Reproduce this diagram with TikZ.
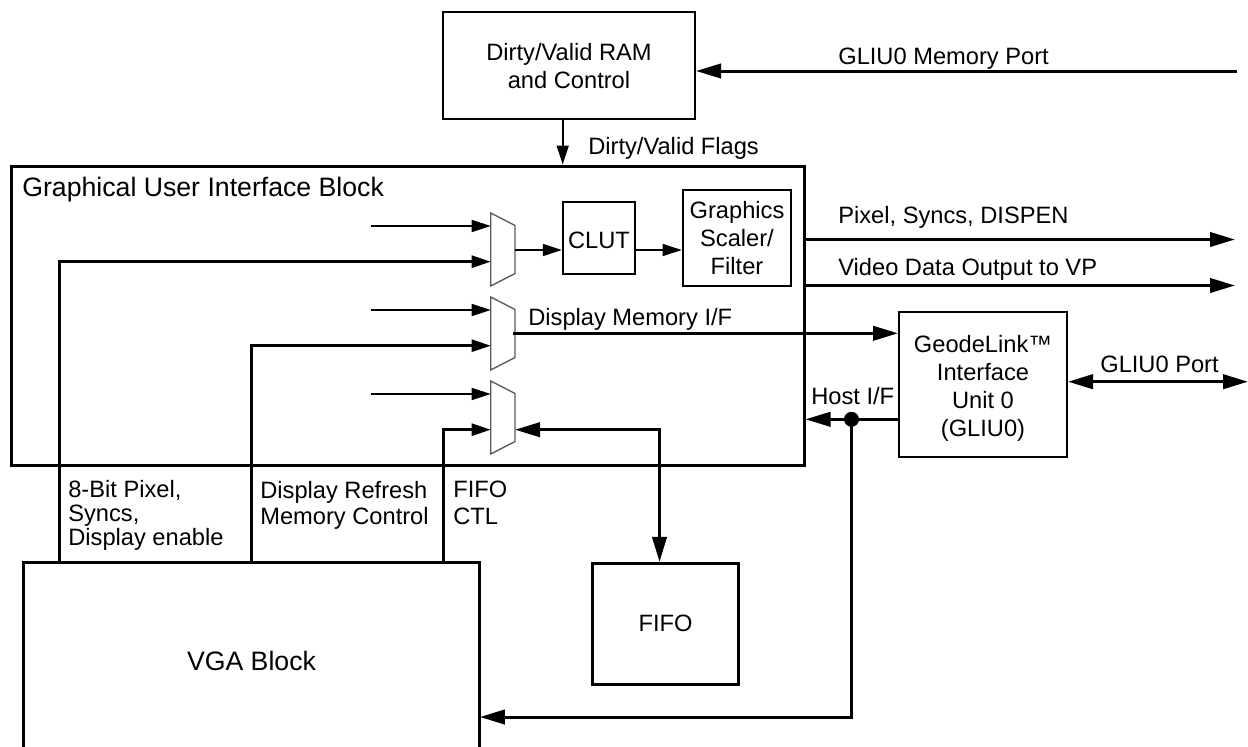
\documentclass[tikz,border=0pt]{standalone}
\usepackage{fontspec}
\setmainfont{Liberation Sans}
\usetikzlibrary{arrows.meta, positioning}

\begin{document}
\begin{tikzpicture}[x=0.6pt,y=-0.6pt,
	block/.style={draw, line width=1.2pt, inner sep=0pt, align=center, font=\fontsize{14.2}{16.8}\selectfont},
	bigblock/.style={block, line width=1.8pt},
	lbl/.style={inner sep=0pt, anchor=west, align=left, font=\fontsize{14.2}{16.8}\selectfont},
	biglbl/.style={font=\fontsize{16}{19}\selectfont},
	thin arrow/.style={-{Triangle[length=11.4pt,width=7.2pt]}, line width=1pt},
	tap arrow/.style={thin arrow, line width=1.6pt},
	bus/.style={-{Triangle[length=15pt,width=8.6pt]}, line width=1.8pt},
	both bus/.style={{Triangle[length=15pt,width=8.6pt]}-{Triangle[length=15pt,width=8.6pt]}, line width=1.8pt},
	muxline/.style={draw=black!65, line width=0.8pt}]
	\useasboundingbox (0,0) rectangle (1248,747);

	% blocks
	\node[block, minimum width=151.2pt, minimum height=64.6pt] (dirty) at (569,65.5) {\rule{0pt}{11.5pt}Dirty/Valid RAM\\and Control};
	\node[bigblock, minimum width=475.8pt, minimum height=179.4pt] (gui) at (407.5,315.5) {};
	\node[block, minimum width=43.4pt, minimum height=43.2pt] (clut) at (599,238) {\rule{0pt}{12.7pt}CLUT};
	\node[block, minimum width=65.2pt, minimum height=57.6pt] (scaler) at (737,238) {Graphics\\Scaler/\\Filter};
	\node[block, minimum width=100.8pt, minimum height=87.2pt] (gliu) at (983,384.5) {\rule{0pt}{14.4pt}GeodeLink™\\Interface\\Unit 0\\(GLIU0)};
	\node[bigblock, minimum width=87.4pt, minimum height=72.4pt] (fifo) at (665.5,623.7) {FIFO};
	\node[inner sep=0pt, minimum width=273.6pt, minimum height=117.2pt, biglbl] (vga) at (251.5,660.7) {VGA Block};
	\draw[line width=1.8pt] (vga.south west) -- (vga.north west) -- (vga.north east) -- (vga.south east);

	% muxes
	\foreach \i/\y in {1/249.5, 2/333.5, 3/417.5} {
		\draw[muxline] (490.7,\y-36.5) -- (515,\y-24) -- (515,\y+24) -- (490.7,\y+36.5) -- cycle;
		\coordinate (mux\i) at (515,\y);
		\coordinate (mux\i a) at (490.7,\y-23.5);
		\coordinate (mux\i b) at (490.7,\y+12.2);
		\coordinate (in\i) at (371,\y-23.5);
		\draw[thin arrow] (in\i) -- (mux\i a);
	}
	\coordinate (tap1) at (59.5,563);
	\coordinate (tap2) at (251.5,563);
	\coordinate (tap3) at (443.5,563);
	\foreach \i in {1,2,3}
		\draw[tap arrow] (tap\i) |- (mux\i b);

	% inside the gui block
	\coordinate (m1out) at (515,250);
	\coordinate (dispout) at (513,333.3);
	\draw[thin arrow] (m1out) -- (m1out -| clut.west);
	\draw[thin arrow] (m1out -| clut.east) -- (m1out -| scaler.west);
	\draw[bus] (dispout) -- (dispout -| gliu.west);

	% outside connectors
	\coordinate (memport) at (1237,71);
	\coordinate (flags) at (562.7,0);
	\coordinate (pix) at (804,239.5);
	\coordinate (vid) at (804,285.5);
	\coordinate (pixend) at (1235,239.5);
	\coordinate (vidend) at (1235,285.5);
	\coordinate (portend) at (1248,381.7);
	\coordinate (host) at (851.5,419.3);
	\coordinate (hostdown) at (851.5,717);
	\coordinate (fifodown) at (659.5,0);
	\draw[bus] (memport) -- (memport -| dirty.east);
	\draw[thin arrow] (dirty.south -| flags) -- (gui.north -| flags);
	\draw[bus] (pix) -- (pixend);
	\draw[bus] (vid) -- (vidend);
	\draw[both bus] (gliu.east |- portend) -- (portend);
	\draw[bus] (gliu.west |- host) -- (gui.east |- host);
	\fill (host) circle (7.5);
	\draw[bus] (host) -- (hostdown) -- (hostdown -| vga.east);
	\draw[both bus] (mux3b -| mux3) -| (fifo.north -| fifodown);

	% labels
	\node[lbl] (lmem) at (838,59) {GLIU0 Memory Port};
	\node[lbl] (lflags) at (588,148) {Dirty/Valid Flags};
	\node[lbl, biglbl] (lgui) at (22,190) {Graphical User Interface Block};
	\node[lbl] (lpix) at (838,217) {Pixel, Syncs, DISPEN};
	\node[lbl] (lvid) at (838,269) {Video Data Output to VP};
	\node[lbl] (ldisp) at (528,319) {Display Memory I/F};
	\node[lbl] (lport) at (1100,364) {GLIU0 Port};
	\node[lbl] (lhost) at (811,396) {Host I/F};
	\node[lbl, font=\fontsize{14.2}{14.4}\selectfont] (lpel) at (68,515) {8-Bit Pixel,\\Syncs,\\Display enable};
	\node[lbl, font=\fontsize{14.2}{15.6}\selectfont] (lref) at (260,505) {Display Refresh\\Memory Control};
	\node[lbl, font=\fontsize{14.2}{16.2}\selectfont] (lctl) at (453,503) {FIFO\\CTL};
\end{tikzpicture}
\end{document}
